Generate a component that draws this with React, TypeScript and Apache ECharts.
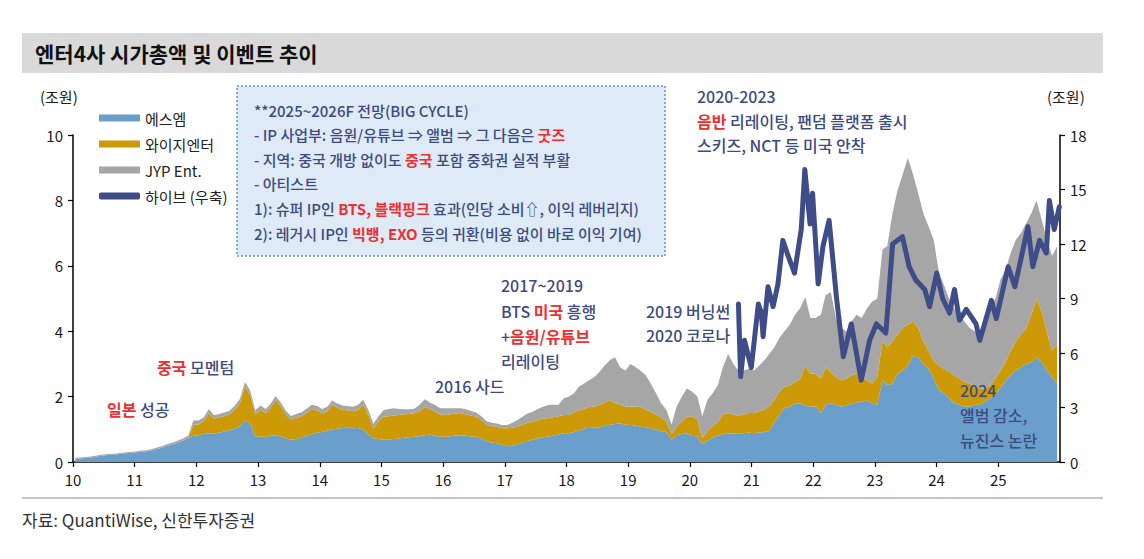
import React, { useEffect, useRef } from 'react';
import * as echarts from 'echarts';

// ---------------- DATA ----------------
const years = [2010, 2011, 2012, 2013, 2014, 2015, 2016, 2017, 2018, 2019, 2020, 2021, 2022, 2023, 2024, 2025];
const yearTickLabels = ['10', '11', '12', '13', '14', '15', '16', '17', '18', '19', '20', '21', '22', '23', '24', '25'];

// 시가총액 (조원), monthly (mid-month), 2010-01 ~ 2025-12
const smValues = [
  0.10, 0.11, 0.12, 0.14, 0.16, 0.19, 0.21, 0.22, 0.23, 0.25, 0.27, 0.28,
  0.30, 0.32, 0.33, 0.36, 0.40, 0.44, 0.50, 0.55, 0.60, 0.66, 0.74, 0.80,
  0.82, 0.86, 0.88, 0.86, 0.90, 0.93, 0.97, 1.02, 1.10, 1.28, 1.18, 0.78,
  0.78, 0.76, 0.80, 0.82, 0.78, 0.72, 0.68, 0.70, 0.74, 0.80, 0.86, 0.90,
  0.92, 0.96, 1.00, 1.02, 1.04, 1.05, 1.03, 1.04, 1.00, 0.85, 0.72, 0.70,
  0.68, 0.68, 0.70, 0.72, 0.74, 0.76, 0.77, 0.79, 0.82, 0.84, 0.80, 0.77,
  0.77, 0.79, 0.81, 0.82, 0.80, 0.78, 0.77, 0.72, 0.64, 0.60, 0.57, 0.52,
  0.48, 0.50, 0.54, 0.58, 0.64, 0.68, 0.72, 0.76, 0.78, 0.80, 0.84, 0.88,
  0.88, 0.92, 0.96, 1.02, 1.08, 1.04, 1.06, 1.10, 1.14, 1.16, 1.18, 1.14,
  1.13, 1.11, 1.08, 1.06, 1.03, 0.99, 0.95, 0.92, 0.68, 0.82, 0.86, 0.88,
  0.80, 0.78, 0.55, 0.65, 0.75, 0.80, 0.85, 0.88, 0.88, 0.86, 0.88, 0.90,
  0.88, 0.90, 0.92, 0.95, 1.20, 1.45, 1.65, 1.70, 1.78, 1.80, 1.72, 1.70,
  1.70, 1.50, 1.75, 1.80, 1.75, 1.70, 1.72, 1.78, 1.82, 1.85, 1.88, 1.80,
  1.75, 2.50, 2.35, 2.40, 2.70, 2.80, 2.95, 3.25, 3.20, 3.00, 2.85, 2.55,
  2.20, 2.10, 1.95, 1.80, 1.75, 1.70, 1.70, 1.75, 1.75, 1.85, 1.95, 2.05,
  2.30, 2.50, 2.65, 2.80, 2.90, 3.00, 3.05, 3.20, 3.05, 2.80, 2.60, 2.40,
];

const ygValues = [
  0, 0, 0, 0, 0, 0, 0, 0, 0, 0, 0, 0,
  0, 0, 0, 0, 0, 0, 0, 0, 0, 0, 0, 0.35,
  0.33, 0.39, 0.62, 0.46, 0.46, 0.47, 0.49, 0.58, 0.70, 1.02, 0.87, 0.67,
  0.82, 0.74, 0.85, 1.08, 0.92, 0.73, 0.62, 0.65, 0.66, 0.70, 0.76, 0.68,
  0.56, 0.59, 0.75, 0.64, 0.56, 0.53, 0.52, 0.56, 0.75, 0.60, 0.30, 0.55,
  0.71, 0.72, 0.72, 0.72, 0.72, 0.71, 0.72, 0.76, 0.86, 0.78, 0.74, 0.69,
  0.67, 0.67, 0.67, 0.67, 0.66, 0.64, 0.62, 0.56, 0.50, 0.50, 0.51, 0.51,
  0.55, 0.55, 0.54, 0.56, 0.56, 0.56, 0.56, 0.56, 0.56, 0.57, 0.56, 0.56,
  0.56, 0.60, 0.62, 0.60, 0.60, 0.66, 0.68, 0.72, 0.76, 0.64, 0.58, 0.56,
  0.56, 0.59, 0.60, 0.54, 0.51, 0.46, 0.41, 0.33, 0.17, 0.26, 0.39, 0.50,
  0.60, 0.52, 0.17, 0.30, 0.35, 0.42, 0.60, 0.62, 0.57, 0.56, 0.58, 0.60,
  0.62, 0.65, 0.68, 0.75, 0.70, 0.70, 0.65, 0.65, 0.67, 0.75, 1.23, 1.00,
  1.00, 1.05, 1.15, 0.95, 0.85, 0.80, 0.83, 0.87, 0.88, 0.75, 0.62, 0.60,
  0.85, 1.20, 1.15, 1.30, 1.20, 1.30, 1.25, 1.05, 0.90, 0.70, 0.55, 0.55,
  0.75, 0.75, 0.80, 0.85, 0.80, 0.75, 0.70, 0.55, 0.50, 0.40, 0.40, 0.50,
  0.50, 0.60, 0.75, 0.90, 1.00, 1.10, 1.45, 1.80, 1.55, 1.20, 0.80, 1.20,
];

const jypValues = [
  0.03, 0.03, 0.03, 0.03, 0.03, 0.03, 0.03, 0.03, 0.03, 0.03, 0.03, 0.03,
  0.03, 0.03, 0.03, 0.04, 0.04, 0.05, 0.05, 0.05, 0.06, 0.06, 0.07, 0.12,
  0.12, 0.12, 0.12, 0.11, 0.11, 0.11, 0.11, 0.12, 0.13, 0.15, 0.14, 0.13,
  0.13, 0.12, 0.12, 0.12, 0.12, 0.11, 0.11, 0.12, 0.12, 0.13, 0.13, 0.14,
  0.14, 0.14, 0.13, 0.13, 0.13, 0.13, 0.14, 0.14, 0.15, 0.15, 0.15, 0.15,
  0.20, 0.22, 0.22, 0.18, 0.15, 0.14, 0.14, 0.20, 0.24, 0.20, 0.20, 0.18,
  0.20, 0.18, 0.16, 0.15, 0.15, 0.14, 0.12, 0.12, 0.11, 0.10, 0.10, 0.10,
  0.10, 0.15, 0.20, 0.24, 0.28, 0.30, 0.34, 0.37, 0.40, 0.38, 0.35, 0.50,
  0.56, 0.58, 0.72, 0.78, 0.82, 0.90, 1.01, 1.13, 1.22, 1.40, 1.14, 1.10,
  1.31, 1.20, 1.12, 1.05, 0.86, 0.65, 0.44, 0.35, 0.30, 0.62, 0.75, 0.87,
  0.75, 0.70, 0.68, 0.95, 1.00, 1.13, 1.45, 1.80, 1.55, 1.38, 1.34, 1.35,
  1.30, 1.40, 1.50, 1.60, 1.60, 1.65, 1.70, 1.85, 2.05, 2.15, 2.10, 1.70,
  1.70, 1.95, 2.20, 2.45, 1.80, 1.60, 1.45, 1.65, 1.80, 1.80, 2.20, 2.50,
  2.40, 2.80, 3.10, 3.90, 4.40, 4.70, 5.10, 4.50, 4.10, 3.90, 3.80, 3.70,
  2.85, 2.55, 2.25, 2.05, 1.95, 1.85, 1.70, 1.70, 1.65, 1.95, 2.35, 2.45,
  2.80, 2.80, 3.00, 3.10, 3.10, 3.20, 3.10, 3.00, 2.80, 2.80, 2.90, 3.00,
];

// 하이브 (우축, 조원)
const hybeDates = [
  '2020-10-15', '2020-10-28', '2020-11-20', '2020-12-30',
  '2021-02-10', '2021-02-28', '2021-03-10', '2021-04-08', '2021-05-08', '2021-06-06',
  '2021-07-05', '2021-08-07', '2021-09-12', '2021-10-22', '2021-11-12', '2021-12-13', '2021-12-28',
  '2022-01-30', '2022-02-28', '2022-04-05', '2022-05-18', '2022-06-28', '2022-08-14', '2022-10-12', '2022-12-01',
  '2023-01-10', '2023-03-07', '2023-04-16', '2023-06-13', '2023-07-23', '2023-09-01', '2023-10-23', '2023-11-21',
  '2024-01-02', '2024-02-06', '2024-03-18', '2024-04-16', '2024-05-16', '2024-06-25', '2024-08-22', '2024-09-13',
  '2024-11-21', '2024-12-20',
  '2025-02-28', '2025-04-09', '2025-06-25', '2025-07-24', '2025-09-02', '2025-10-12', '2025-10-30', '2025-11-28', '2025-12-28',
];
const hybeValues = [
  8.7, 4.7, 6.7, 5.2,
  8.7, 8.2, 6.9, 9.65, 8.55, 9.8,
  12.2, 11.3, 10.4, 12.8, 16.1, 13.1, 14.8,
  9.8, 11.9, 13.3, 9.1, 5.8, 7.6, 4.5, 6.7,
  7.6, 7.1, 12.0, 12.4, 10.75, 10.0, 9.5, 8.55,
  10.4, 9.0, 8.2, 9.5, 7.8, 8.4, 7.6, 6.7,
  8.9, 7.9,
  10.75, 9.65, 12.95, 10.75, 12.2, 11.5, 14.4, 12.8, 14.05,
];

const seriesNames = ['에스엠', '와이지엔터', 'JYP Ent.', '하이브 (우축)'];

// ---------------- STYLE ----------------
const FONT = "'Noto Sans CJK KR', 'Noto Sans', sans-serif";
const C_SM = '#6a9ecb';
const C_YG = '#cc9a06';
const C_JYP = '#a6a6a6';
const C_HY = '#3e4d88';
const NAVY = '#3d4b80';
const RED = '#ef2f2f';

const monthDates: string[] = [];
years.forEach((y) => {
  for (let m = 1; m <= 12; m++) monthDates.push(`${y}-${String(m).padStart(2, '0')}-15`);
});

function rich(size: number) {
  return {
    n: { fill: NAVY, fontSize: size, fontFamily: FONT, fontWeight: 500 },
    r: { fill: RED, fontSize: size, fontFamily: FONT, fontWeight: 'bold' },
  };
}

function label(x: number, y: number, text: string, size = 16) {
  return {
    type: 'text',
    x,
    y,
    z: 100,
    style: {
      text,
      rich: rich(size),
      fontSize: size,
      fontFamily: FONT,
      fill: NAVY,
      verticalAlign: 'middle',
    },
  };
}

export default function App() {
  const ref = useRef<HTMLDivElement>(null);

  useEffect(() => {
    if (!ref.current) return;
    const chart = echarts.init(ref.current, undefined, { renderer: 'svg' });

    const areaSeries = (name: string, values: number[], color: string) => ({
      name,
      type: 'line',
      stack: 'cap',
      yAxisIndex: 0,
      symbol: 'none',
      showSymbol: false,
      data: monthDates.map((d, i) => [d, values[i]]),
      lineStyle: { width: 0 },
      itemStyle: { color },
      areaStyle: { color, opacity: 1 },
    });

    const boxLines = [
      '{n|**2025~2026F 전망(BIG CYCLE)}',
      '{n|- IP 사업부: 음원/유튜브 ⇒ 앨범 ⇒ 그 다음은 }{r|굿즈}',
      '{n|- 지역: 중국 개방 없이도 }{r|중국}{n| 포함 중화권 실적 부활}',
      '{n|- 아티스트}',
      '{n|1): 슈퍼 IP인 }{r|BTS, 블랙핑크}{n| 효과(인당 소비⇧, 이익 레버리지)}',
      '{n|2): 레거시 IP인 }{r|빅뱅, EXO}{n| 등의 귀환(비용 없이 바로 이익 기여)}',
    ];

    const option: any = {
      animation: false,
      backgroundColor: '#ffffff',
      textStyle: { fontFamily: FONT },
      grid: { left: 73, right: 84, top: 135, bottom: 97 },
      legend: {
        orient: 'vertical',
        left: 94,
        top: 105,
        itemWidth: 41,
        itemHeight: 7,
        itemGap: 10,
        textStyle: { fontSize: 15, color: '#222', fontFamily: FONT, lineHeight: 16 },
        data: [
          { name: seriesNames[0], icon: 'rect' },
          { name: seriesNames[1], icon: 'rect' },
          { name: seriesNames[2], icon: 'rect' },
          { name: seriesNames[3], icon: 'roundRect' },
        ],
      },
      xAxis: {
        type: 'time',
        min: '2010-01-01',
        max: '2026-01-01',
        minInterval: 365 * 24 * 3600 * 1000,
        maxInterval: 366 * 24 * 3600 * 1000,
        axisLine: { lineStyle: { color: '#000', width: 1.5 } },
        axisTick: { show: true, length: 5, lineStyle: { color: '#000', width: 1.2 } },
        splitLine: { show: false },
        axisLabel: {
          fontSize: 15,
          color: '#1a1a1a',
          fontFamily: FONT,
          margin: 10,
          hideOverlap: false,
          formatter: (v: number) => {
            const d = new Date(v);
            const idx = d.getFullYear() - years[0];
            if (d.getMonth() !== 0 || idx < 0 || idx >= yearTickLabels.length) return '';
            return yearTickLabels[idx];
          },
        },
      },
      yAxis: [
        {
          type: 'value',
          min: 0,
          max: 10,
          interval: 2,
          axisLine: { show: true, lineStyle: { color: '#000', width: 1.5 } },
          axisTick: { show: true, length: 5, lineStyle: { color: '#000', width: 1.2 } },
          splitLine: { show: false },
          axisLabel: { fontSize: 15, color: '#1a1a1a', fontFamily: FONT, margin: 10 },
        },
        {
          type: 'value',
          position: 'right',
          min: 0,
          max: 18,
          interval: 3,
          axisLine: { show: true, lineStyle: { color: '#000', width: 1.5 } },
          axisTick: { show: true, length: 5, lineStyle: { color: '#000', width: 1.2 } },
          splitLine: { show: false },
          axisLabel: { fontSize: 15, color: '#1a1a1a', fontFamily: FONT, margin: 10 },
        },
      ],
      series: [
        areaSeries(seriesNames[0], smValues, C_SM),
        areaSeries(seriesNames[1], ygValues, C_YG),
        areaSeries(seriesNames[2], jypValues, C_JYP),
        {
          name: seriesNames[3],
          type: 'line',
          yAxisIndex: 1,
          symbol: 'none',
          showSymbol: false,
          z: 5,
          data: hybeDates.map((d, i) => [d, hybeValues[i]]),
          itemStyle: { color: C_HY },
          lineStyle: { color: C_HY, width: 5, cap: 'round', join: 'round' },
        },
      ],
      graphic: [
        { type: 'rect', z: 90, shape: { x: 22, y: 33, width: 1081, height: 40 }, style: { fill: '#d9d9d9' } },
        {
          type: 'text', z: 100, x: 35, y: 53,
          style: { text: '엔터4사 시가총액 및 이벤트 추이', fontSize: 21, fontWeight: 'bold', fontFamily: FONT, fill: '#111', verticalAlign: 'middle' },
        },
        { type: 'line', z: 90, shape: { x1: 22, y1: 498, x2: 1103, y2: 498 }, style: { stroke: '#c4c4c4', lineWidth: 2 } },
        {
          type: 'text', z: 100, x: 22, y: 519,
          style: { text: '자료: QuantiWise, 신한투자증권', fontSize: 17, fontFamily: FONT, fill: '#333', verticalAlign: 'middle' },
        },
        {
          type: 'text', z: 100, x: 40, y: 96,
          style: { text: '(조원)', fontSize: 15, fontFamily: FONT, fill: '#222', verticalAlign: 'middle' },
        },
        {
          type: 'text', z: 100, x: 1047, y: 96,
          style: { text: '(조원)', fontSize: 15, fontFamily: FONT, fill: '#222', verticalAlign: 'middle' },
        },
        {
          type: 'rect', z: 95,
          shape: { x: 237, y: 86, width: 428, height: 170 },
          style: { fill: '#deeaf6', stroke: '#86abd6', lineWidth: 2, lineDash: [2, 2] },
        },
        ...boxLines.map((t, i) => label(254, 110 + i * 24.6, t, 15)),
        label(697, 96, '{n|2020-2023}'),
        label(697, 121, '{r|음반}{n| 리레이팅, 팬덤 플랫폼 출시}'),
        label(697, 145, '{n|스키즈, NCT 등 미국 안착}'),
        label(501, 285, '{n|2017~2019}'),
        label(501, 311, '{n|BTS }{r|미국}{n| 흥행}'),
        label(501, 336, '{n|+}{r|음원/유튜브}'),
        label(501, 361, '{n|리레이팅}'),
        label(435, 386, '{n|2016 사드}'),
        label(157, 367, '{r|중국}{n| 모멘텀}'),
        label(107, 409, '{r|일본}{n| 성공}'),
        label(646, 311, '{n|2019 버닝썬}'),
        label(646, 335, '{n|2020 코로나}'),
        label(960, 390, '{n|2024}'),
        label(960, 415, '{n|앨범 감소,}'),
        label(960, 440, '{n|뉴진스 논란}'),
      ],
    };

    chart.setOption(option);
    return () => chart.dispose();
  }, []);

  return (
    <div
      ref={ref}
      style={{ position: 'fixed', left: 0, top: 0, width: 1144, height: 559, background: '#fff' }}
    />
  );
}
